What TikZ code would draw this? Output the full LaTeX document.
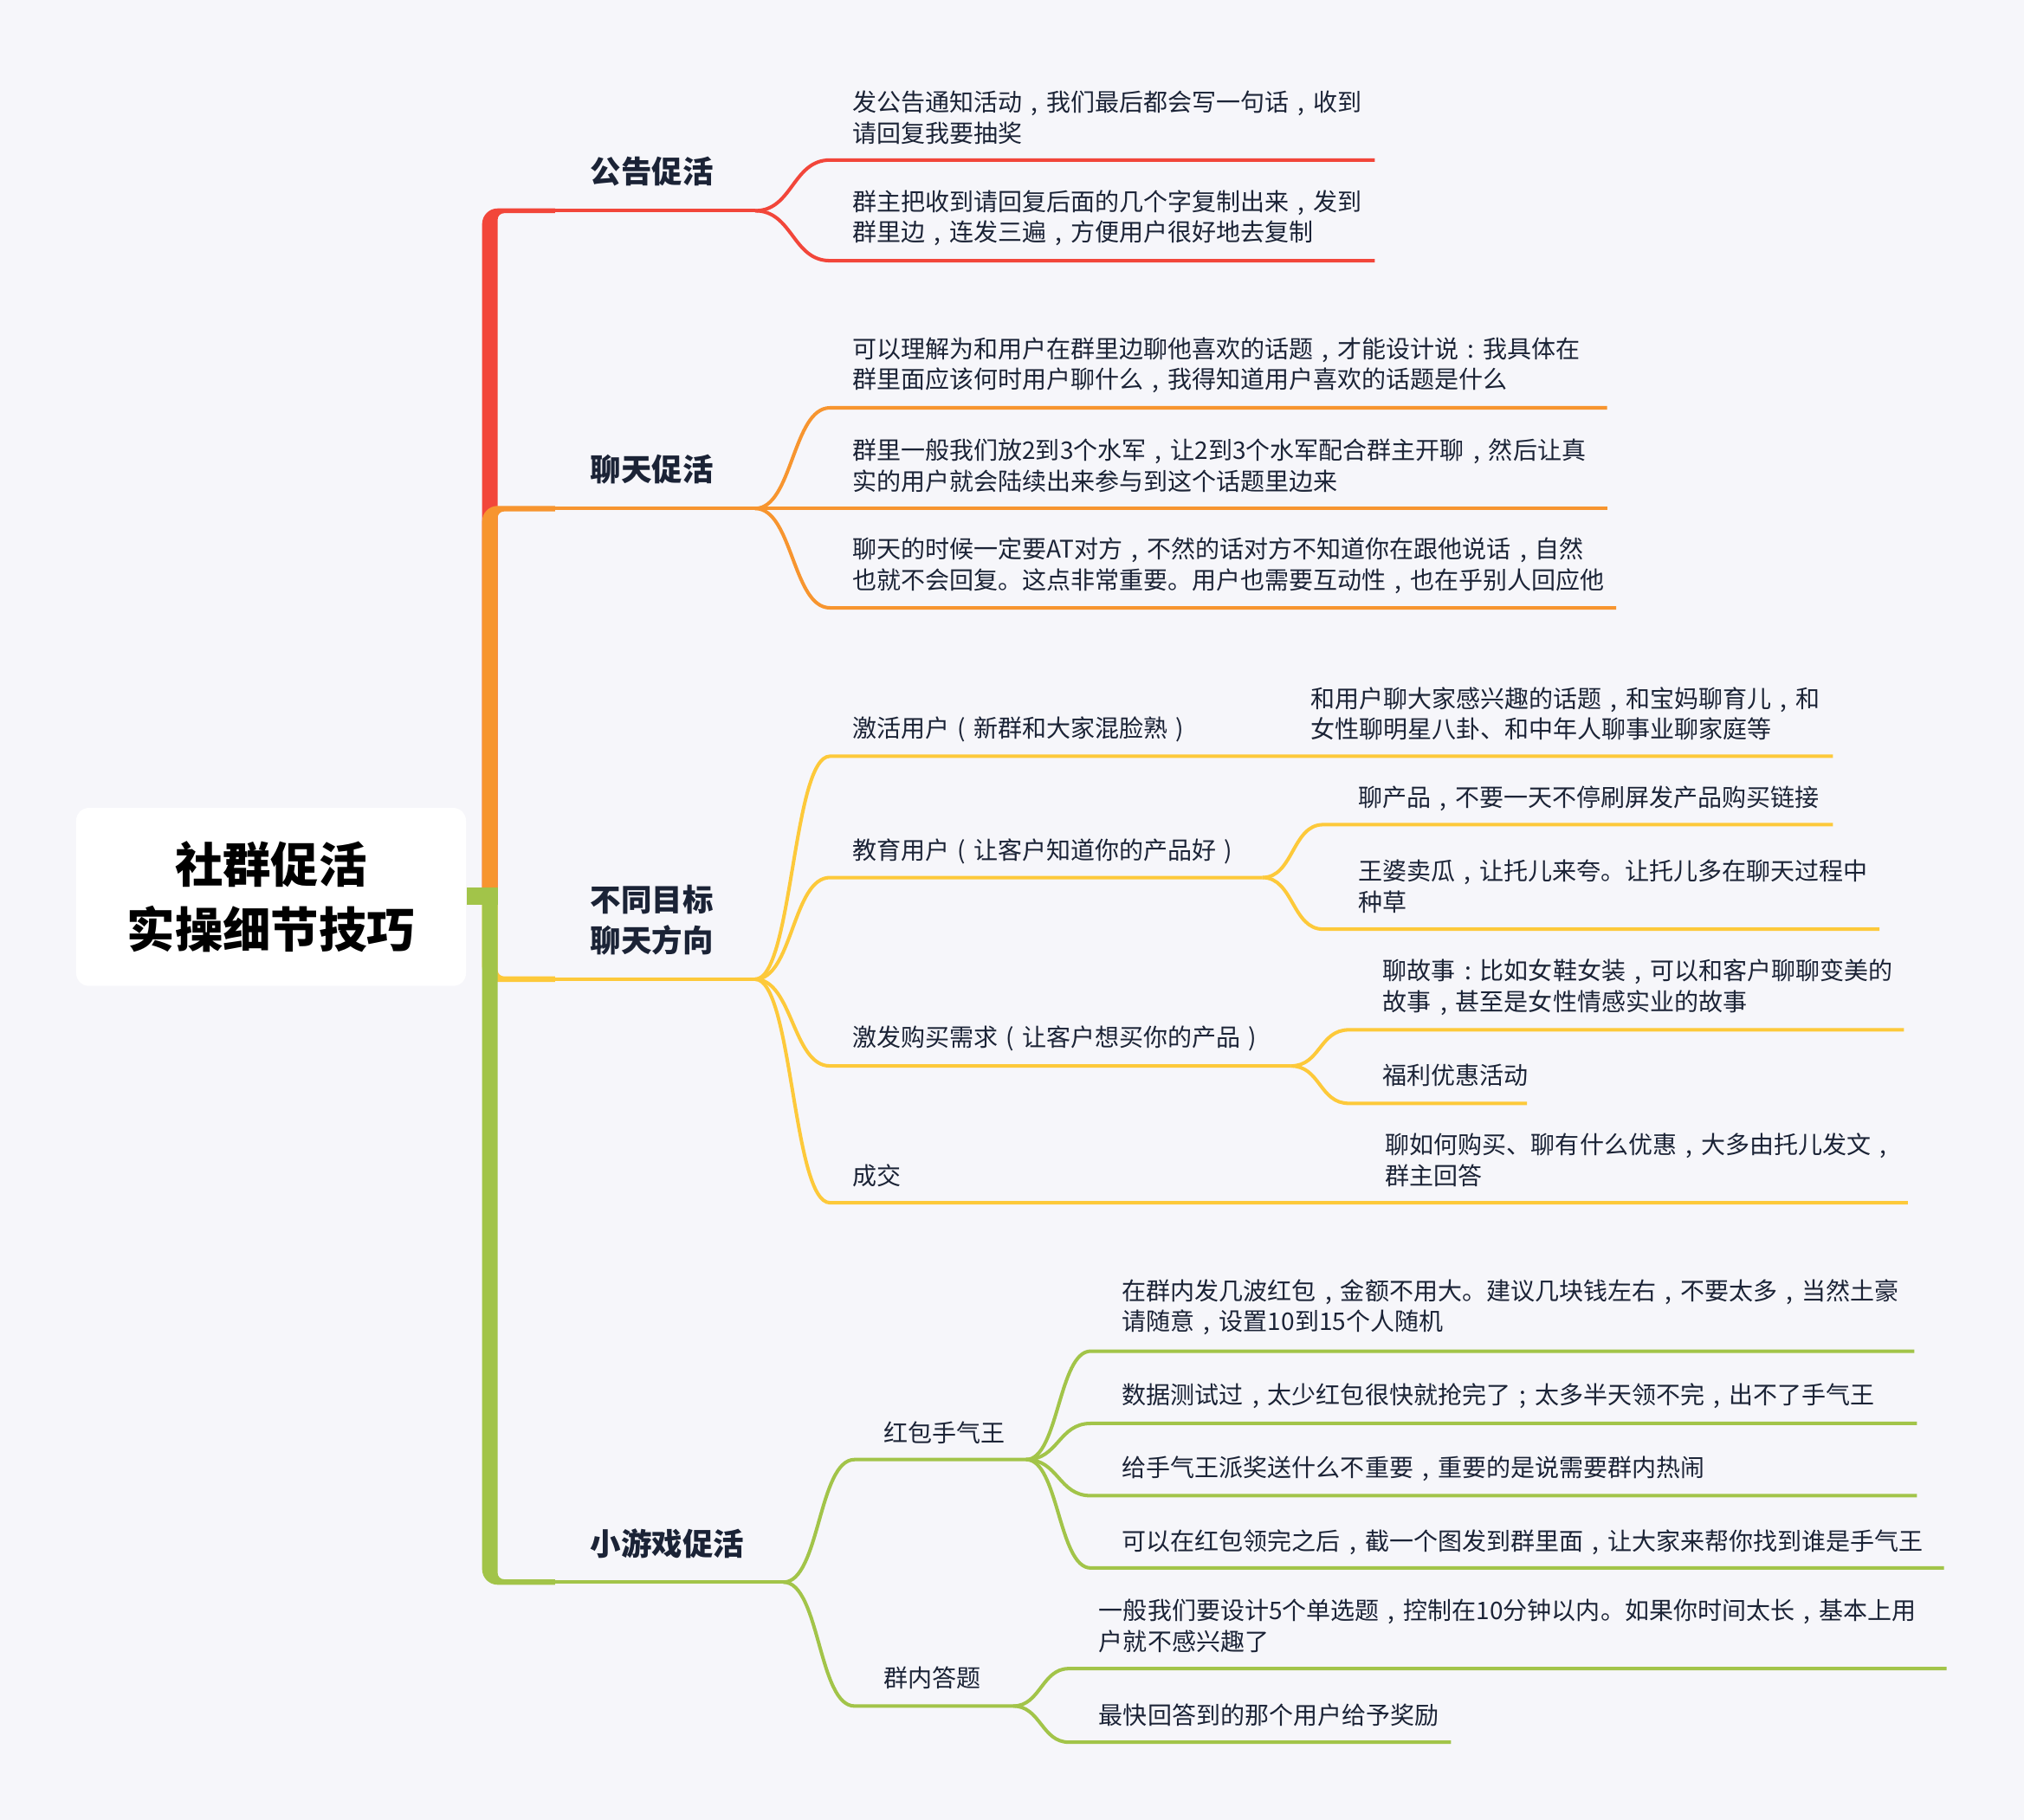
\documentclass[tikz,border=0pt]{standalone}
\usepackage{fontspec}
\setmainfont{Noto Sans CJK SC}
\definecolor{bg}{HTML}{F6F6FA}
\definecolor{ink}{HTML}{1B2336}
\definecolor{cRed}{HTML}{F2463A}
\definecolor{cOra}{HTML}{F7952F}
\definecolor{cYel}{HTML}{FDC93A}
\definecolor{cGre}{HTML}{A2C449}
\catcode`，=13
\def，{\makebox[1em]{,}}
\catcode`：=13
\def：{\makebox[1em]{:}}
\catcode`；=13
\def；{\makebox[1em]{;}}
\catcode`（=13
\def（{\makebox[1em]{(}}
\catcode`）=13
\def）{\makebox[1em]{)}}
\begin{document}
\begin{tikzpicture}[x=0.5pt,y=-0.5pt,
  txt/.style={anchor=west,inner sep=0pt,align=left,text=ink,font=\fontsize{9.4}{12}\selectfont},
  head/.style={anchor=west,inner sep=0pt,align=left,text=ink,font=\fontsize{11.9}{16}\selectfont\bfseries},
  mainl/.style={line width=1.35pt},
  sub/.style={line width=1.35pt}]
\useasboundingbox (0,0) rectangle (1568,1410);
\fill[bg] (0,0) rectangle (1568,1410);
% root
\node[fill=white,rounded corners=5pt,minimum width=151pt,minimum height=69pt,inner sep=0pt] (root) at (210,695) {};
\node[inner sep=0pt,align=center,text=black,font=\fontsize{18.6}{25}\selectfont\bfseries] (roottxt) at (210,695) {社群促活\\实操细节技巧};
% branch spines (filled shapes with rounded corners)
\fill[cRed] (373.5,700) -- (373.5,173.5) .. controls (373.5,166.9) and (378.9,161.5) .. (385.5,161.5) -- (430,161.5) -- (430,165.2) -- (390.5,165.2) .. controls (387.7,165.2) and (385.5,167.4) .. (385.5,170.2) -- (385.5,700) -- cycle;
\fill[cOra] (373.5,688) -- (373.5,404) .. controls (373.5,397.4) and (378.9,392) .. (385.5,392) -- (430,392) -- (430,396.3) -- (390.5,396.3) .. controls (387.7,396.3) and (385.5,398.5) .. (385.5,401.3) -- (385.5,688) -- cycle;
\fill[cYel] (373.5,695) -- (373.5,749) .. controls (373.5,755.6) and (378.9,761) .. (385.5,761) -- (430,761) -- (430,756.6) -- (390.5,756.6) .. controls (387.7,756.6) and (385.5,754.4) .. (385.5,751.6) -- (385.5,695) -- cycle;
\fill[cGre] (373.5,688) -- (373.5,1216) .. controls (373.5,1222.6) and (378.9,1228) .. (385.5,1228) -- (430,1228) -- (430,1223.8) -- (390.5,1223.8) .. controls (387.7,1223.8) and (385.5,1221.6) .. (385.5,1218.8) -- (385.5,688) -- cycle;
\fill[cGre] (root.east) ++(0,-7) rectangle ++(24.5,13);
% coordinates of the branch lines
\coordinate (r1b) at (429,163.3); \coordinate (f1) at (585,163.3);
\coordinate (r2b) at (429,394);   \coordinate (f2) at (585,394);
\coordinate (r3b) at (429,758.8); \coordinate (f3) at (585,758.8);
\coordinate (r4b) at (429,1226);  \coordinate (f4) at (607,1226);
\draw[mainl,cRed] (r1b) -- (f1);
\draw[mainl,cOra] (r2b) -- (f2);
\draw[mainl,cYel] (r3b) -- (f3);
\draw[mainl,cGre] (r4b) -- (f4);
% headings
\node[head] (h1) at (457,133) {公告促活};
\node[head] (h2) at (457,364) {聊天促活};
\node[head] (h3) at (457,713) {不同目标\\聊天方向};
\node[head] (h4) at (457,1196) {小游戏促活};
% ---- red branch
\coordinate (s11) at (643,124); \coordinate (e11) at (1065,124);
\coordinate (s12) at (643,202); \coordinate (e12) at (1065,202);
\draw[sub,cRed] (f1) .. controls +(29,0) and +(-29,0) .. (s11) -- (e11);
\draw[sub,cRed] (f1) .. controls +(29,0) and +(-29,0) .. (s12) -- (e12);
\node[txt] (t11) at (660,91) {发公告通知活动，我们最后都会写一句话，收到\\请回复我要抽奖};
\node[txt] (t12) at (660,169) {群主把收到请回复后面的几个字复制出来，发到\\群里边，连发三遍，方便用户很好地去复制};
% ---- orange branch
\coordinate (s21) at (643,316); \coordinate (e21) at (1245,316);
\coordinate (e22) at (1245,394);
\coordinate (s23) at (643,471); \coordinate (e23) at (1252,471);
\draw[sub,cOra] (f2) .. controls +(29,0) and +(-29,0) .. (s21) -- (e21);
\draw[sub,cOra] (f2) -- (e22);
\draw[sub,cOra] (f2) .. controls +(29,0) and +(-29,0) .. (s23) -- (e23);
\node[txt] (t21) at (660,283) {可以理解为和用户在群里边聊他喜欢的话题，才能设计说：我具体在\\群里面应该何时用户聊什么，我得知道用户喜欢的话题是什么};
\node[txt] (t22) at (660,361) {群里一般我们放2到3个水军，让2到3个水军配合群主开聊，然后让真\\实的用户就会陆续出来参与到这个话题里边来};
\node[txt] (t23) at (660,438.5) {聊天的时候一定要AT对方，不然的话对方不知道你在跟他说话，自然\\也就不会回复。这点非常重要。用户也需要互动性，也在乎别人回应他};
% ---- yellow branch
\coordinate (s31) at (643,586); \coordinate (e31) at (1420,586);
\coordinate (s32) at (643,680); \coordinate (f32) at (978,680);
\coordinate (s321) at (1025,639); \coordinate (e321) at (1420,639);
\coordinate (s322) at (1025,720); \coordinate (e322) at (1456,720);
\coordinate (s33) at (643,826); \coordinate (f33) at (1000,826);
\coordinate (s331) at (1045,798); \coordinate (e331) at (1475,798);
\coordinate (s332) at (1045,855); \coordinate (e332) at (1183,855);
\coordinate (s34) at (643,932); \coordinate (e34) at (1478,932);
\draw[sub,cYel] (f3) .. controls +(29,0) and +(-29,0) .. (s31) -- (e31);
\draw[sub,cYel] (f3) .. controls +(29,0) and +(-29,0) .. (s32) -- (f32);
\draw[sub,cYel] (f3) .. controls +(29,0) and +(-29,0) .. (s33) -- (f33);
\draw[sub,cYel] (f3) .. controls +(29,0) and +(-29,0) .. (s34) -- (e34);
\draw[sub,cYel] (f32) .. controls +(24,0) and +(-24,0) .. (s321) -- (e321);
\draw[sub,cYel] (f32) .. controls +(24,0) and +(-24,0) .. (s322) -- (e322);
\draw[sub,cYel] (f33) .. controls +(23,0) and +(-23,0) .. (s331) -- (e331);
\draw[sub,cYel] (f33) .. controls +(23,0) and +(-23,0) .. (s332) -- (e332);
\node[txt] (t31) at (660,565) {激活用户（新群和大家混脸熟）};
\node[txt] (t311) at (1015,553) {和用户聊大家感兴趣的话题，和宝妈聊育儿，和\\女性聊明星八卦、和中年人聊事业聊家庭等};
\node[txt] (t32) at (660,660) {教育用户（让客户知道你的产品好）};
\node[txt] (t321) at (1052,619) {聊产品，不要一天不停刷屏发产品购买链接};
\node[txt] (t322) at (1052,687) {王婆卖瓜，让托儿来夸。让托儿多在聊天过程中\\种草};
\node[txt] (t33) at (660,805) {激发购买需求（让客户想买你的产品）};
\node[txt] (t331) at (1071,765) {聊故事：比如女鞋女装，可以和客户聊聊变美的\\故事，甚至是女性情感实业的故事};
\node[txt] (t332) at (1071,833) {福利优惠活动};
\node[txt] (t34) at (660,911) {成交};
\node[txt] (t341) at (1073,899) {聊如何购买、聊有什么优惠，大多由托儿发文，\\群主回答};
% ---- green branch
\coordinate (s41) at (662,1131); \coordinate (f41) at (795,1131);
\coordinate (s411) at (845,1047); \coordinate (e411) at (1483,1047);
\coordinate (s412) at (845,1103); \coordinate (e412) at (1485,1103);
\coordinate (s413) at (845,1159); \coordinate (e413) at (1485,1159);
\coordinate (s414) at (845,1215); \coordinate (e414) at (1506,1215);
\coordinate (s42) at (662,1322); \coordinate (f42) at (785,1322);
\coordinate (s421) at (828,1293); \coordinate (e421) at (1508,1293);
\coordinate (s422) at (828,1350); \coordinate (e422) at (1124,1350);
\draw[sub,cGre] (f4) .. controls +(28,0) and +(-28,0) .. (s41) -- (f41);
\draw[sub,cGre] (f4) .. controls +(28,0) and +(-28,0) .. (s42) -- (f42);
\draw[sub,cGre] (f41) .. controls +(25,0) and +(-25,0) .. (s411) -- (e411);
\draw[sub,cGre] (f41) .. controls +(25,0) and +(-25,0) .. (s412) -- (e412);
\draw[sub,cGre] (f41) .. controls +(25,0) and +(-25,0) .. (s413) -- (e413);
\draw[sub,cGre] (f41) .. controls +(25,0) and +(-25,0) .. (s414) -- (e414);
\draw[sub,cGre] (f42) .. controls +(21,0) and +(-21,0) .. (s421) -- (e421);
\draw[sub,cGre] (f42) .. controls +(21,0) and +(-21,0) .. (s422) -- (e422);
\node[txt] (t41) at (684,1110) {红包手气王};
\node[txt] (t411) at (869,1013) {在群内发几波红包，金额不用大。建议几块钱左右，不要太多，当然土豪\\请随意，设置10到15个人随机};
\node[txt] (t412) at (869,1082) {数据测试过，太少红包很快就抢完了；太多半天领不完，出不了手气王};
\node[txt] (t413) at (869,1138) {给手气王派奖送什么不重要，重要的是说需要群内热闹};
\node[txt] (t414) at (869,1195) {可以在红包领完之后，截一个图发到群里面，让大家来帮你找到谁是手气王};
\node[txt] (t42) at (684,1300) {群内答题};
\node[txt] (t421) at (851,1260) {一般我们要设计5个单选题，控制在10分钟以内。如果你时间太长，基本上用\\户就不感兴趣了};
\node[txt] (t422) at (851,1329) {最快回答到的那个用户给予奖励};
\end{tikzpicture}
\end{document}
